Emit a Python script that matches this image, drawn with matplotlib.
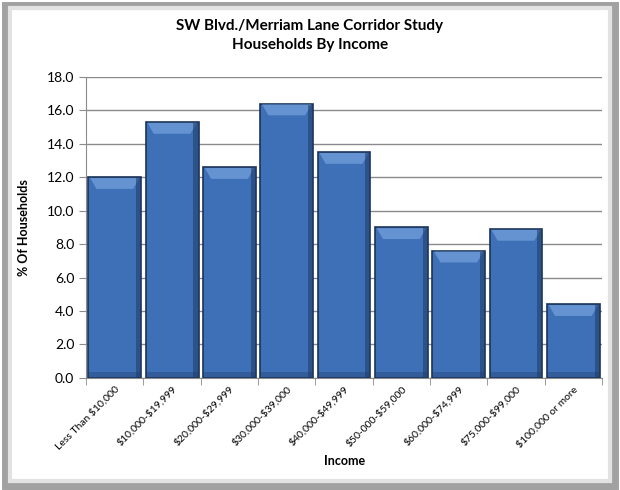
"""
SW Blvd./Merriam Lane Corridor Study - Households By Income
"""

import numpy as np
import matplotlib
matplotlib.use('Agg')
import matplotlib.pyplot as plt
from matplotlib.patches import Rectangle, Polygon

plt.rcParams['font.family'] = ['Lato', 'DejaVu Sans']

categories = ['Less Than $10,000', '$10,000-$19,999', '$20,000-$29,999',
              '$30,000-$39,000', '$40,000-$49,999', '$50-000-$59,000',
              '$60,000-$74,999', '$75,000-$99,000', '$100,000 or more']
values = [12.0, 15.3, 12.6, 16.4, 13.5, 9.0, 7.6, 8.9, 4.4]
yticks = np.arange(0, 18.1, 2.0)

fig = plt.figure(figsize=(6.2, 4.9), dpi=100)
fig.patch.set_facecolor('white')

# marco gris con sombra
fig.patches.append(Rectangle((0.008, 0.008), 0.984, 0.982, transform=fig.transFigure,
                             facecolor='none', edgecolor='#7a7a7a', linewidth=5, alpha=0.7))
fig.patches.append(Rectangle((0.016, 0.018), 0.968, 0.966, transform=fig.transFigure,
                             facecolor='none', edgecolor='#e2e2e2', linewidth=3))

ax = fig.add_axes([0.139, 0.229, 0.832, 0.614])
x = np.arange(len(categories))
bars = ax.bar(x, values, width=0.92, color='#3d70b7', edgecolor='#1c3357',
              linewidth=1.2, zorder=3)

# bisel superior y sombra lateral
for b in bars:
    x0, w, h = b.get_x(), b.get_width(), b.get_height()
    d = 0.7
    top = Polygon([(x0 + 0.03, h - 0.05), (x0 + w - 0.03, h - 0.05),
                   (x0 + w - 0.14, h - d), (x0 + 0.14, h - d)],
                  closed=True, facecolor='#6593d2', edgecolor='none', zorder=4)
    ax.add_patch(top)
    ax.add_patch(Rectangle((x0 + w - 0.09, 0), 0.09, h - 0.05, facecolor='#1f3a66',
                           edgecolor='none', alpha=0.55, zorder=4))
    ax.add_patch(Rectangle((x0, 0), w, 0.35, facecolor='#1f3a66',
                           edgecolor='none', alpha=0.35, zorder=4))

ax.set_xlim(-0.5, len(categories) - 0.5)
ax.set_ylim(0, 18)
ax.set_yticks(yticks)
ax.set_yticklabels([f'{v:.1f}' for v in yticks], fontsize=10)
ax.set_xticks(x)
ax.set_xticklabels([c.replace('$', r'\$') for c in categories], rotation=45, ha='right',
                   rotation_mode='anchor', fontsize=7.5)
ax.tick_params(axis='x', length=0, pad=5)
ax.set_xticks(np.arange(-0.5, len(categories)), minor=True)
ax.tick_params(axis='x', which='minor', length=5, color='#8c8c8c')
ax.tick_params(axis='y', length=5, color='#8c8c8c')

ax.grid(axis='y', color='#8a8a8a', linewidth=1, zorder=0)
for s in ['top', 'right']:
    ax.spines[s].set_visible(False)
for s in ['left', 'bottom']:
    ax.spines[s].set_color('#8c8c8c')

ax.set_ylabel('% Of Households', fontsize=9, fontweight='bold', labelpad=12)
ax.set_xlabel('Income', fontsize=9, fontweight='bold', labelpad=2)
fig.text(0.5, 0.927, 'SW Blvd./Merriam Lane Corridor Study\nHouseholds By Income',
         ha='center', va='center', fontsize=11, fontweight='bold', linespacing=1.45)

plt.savefig('out.png', dpi=100)
plt.close()
